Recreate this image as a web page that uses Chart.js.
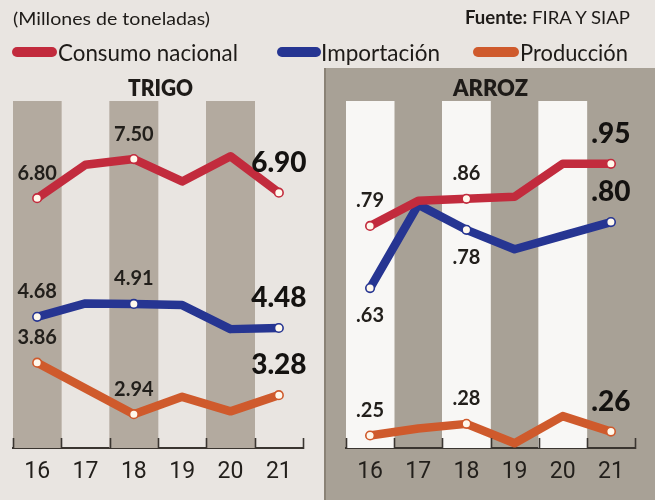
<!DOCTYPE html>
<html>
<head>
<meta charset="utf-8">
<script src="https://cdn.jsdelivr.net/npm/chart.js@4"></script>
<style>
  html, body { margin: 0; padding: 0; }
  body { width: 655px; height: 500px; overflow: hidden; position: relative; background: #e9e5e1; font-family: Lato, "Open Sans", sans-serif; color: #1e1b18; }
  #rightBox { position: absolute; left: 324px; top: 68px; width: 331px; height: 432px; background: #a8a196; border-left: 2px solid #8a8276; box-sizing: border-box; }
  canvas { position: absolute; top: 0; }
  #cTrigo { left: 0; }
  #cArroz { left: 325px; }
  .txt { position: absolute; white-space: nowrap; transform-origin: 0 50%; }
  .sw { position: absolute; height: 10px; border-radius: 5px; }
</style>
</head>
<body>
<div id="rightBox"></div>
<canvas id="cTrigo" width="325" height="500"></canvas>
<canvas id="cArroz" width="330" height="500"></canvas>

<div class="txt" id="tUnits" data-w="197" style="left:13px; top:7px; font-size:18px; line-height:22px;">(Millones de toneladas)</div>
<div class="txt" id="tSource" data-w="165" style="left:465px; top:6px; font-size:18px; line-height:22px;"><b>Fuente:</b> FIRA Y SIAP</div>

<div class="sw" style="left:12px; top:47px; width:45px; background:#c22b3d;"></div>
<div class="txt" data-w="180" style="left:58px; top:38px; font-size:24px; line-height:28px;">Consumo nacional</div>
<div class="sw" style="left:277px; top:47px; width:44px; background:#263592;"></div>
<div class="txt" data-w="119" style="left:321px; top:38px; font-size:24px; line-height:28px;">Importación</div>
<div class="sw" style="left:473px; top:47px; width:46px; background:#cf5a2c;"></div>
<div class="txt" data-w="108" style="left:520px; top:38px; font-size:24px; line-height:28px;">Producción</div>

<div class="txt" data-w="65" style="left:128px; top:74px; font-size:23px; line-height:26px; font-weight:800;">TRIGO</div>
<div class="txt" data-w="75" style="left:453px; top:74px; font-size:23px; line-height:26px; font-weight:800;">ARROZ</div>

<script>
// ---------- DATA ----------
const categories = ['16', '17', '18', '19', '20', '21'];

const trigoConsumo    = [6.80, 7.40, 7.50, 7.10, 7.55, 6.90];
const trigoImportacion = [4.68, 4.92, 4.91, 4.89, 4.46, 4.48];
const trigoProduccion = [3.86, 3.40, 2.94, 3.25, 2.99, 3.28];

const arrozConsumo    = [0.79, 0.855, 0.86, 0.865, 0.95, 0.95];
const arrozImportacion = [0.63, 0.845, 0.78, 0.73, 0.765, 0.80];
const arrozProduccion = [0.25, 0.268, 0.28, 0.23, 0.30, 0.26];

const labeledIdx = [0, 2, 5];          // years that carry a value label
const stripeYears = ['16', '18', '20']; // shaded background bands

const trigoRange = [2.335, 8.538];
const arrozRange = [0.2178, 1.112];

// ---------- STYLE ----------
const RED = '#c22b3d', BLUE = '#263592', ORANGE = '#cf5a2c';

// fit header texts to their widths
document.querySelectorAll('.txt').forEach(el => {
  const w = parseFloat(el.dataset.w);
  const nat = el.getBoundingClientRect().width;
  if (w && nat) el.style.transform = 'scaleX(' + (w / nat) + ')';
});

const valueLabels = {
  id: 'valueLabels',
  afterDatasetsDraw(chart, args, opts) {
    const ctx = chart.ctx;
    ctx.save();
    chart.data.datasets.forEach((ds, di) => {
      if (ds.type !== 'line') return;
      const meta = chart.getDatasetMeta(di);
      const below = (opts.below && opts.below[di]) || [];
      labeledIdx.forEach(i => {
        const pt = meta.data[i];
        const v = ds.data[i];
        const last = i === ds.data.length - 1;
        const isBelow = below.includes(i);
        ctx.font = last ? '900 28px Lato' : '700 20px Lato';
        ctx.fillStyle = last ? '#141210' : '#221f1b';
        ctx.textAlign = 'center';
        ctx.textBaseline = 'middle';
        const y = isBelow ? pt.y + 28 : pt.y - (last ? 30 : 25);
        ctx.fillText(opts.format(v), pt.x, y);
      });
    });
    ctx.restore();
  }
};

const upTicks = {
  id: 'upTicks',
  afterDraw(chart) {
    const ctx = chart.ctx, xs = chart.scales.x;
    const y = xs.top;
    ctx.save();
    ctx.strokeStyle = '#3a3530';
    ctx.lineWidth = 1.6;
    for (let i = 0; i <= categories.length; i++) {
      const x = Math.round(xs.getPixelForValue(i - 0.5)) + 0.5;
      ctx.beginPath();
      ctx.moveTo(x, y + 1);
      ctx.lineTo(x, y - 10);
      ctx.stroke();
    }
    ctx.restore();
  }
};

function lineDs(data, color, order) {
  return {
    type: 'line', data, order,
    borderColor: color, borderWidth: 8.5,
    borderJoinStyle: 'round', borderCapStyle: 'round',
    tension: 0, clip: false,
    pointRadius: ctx => labeledIdx.includes(ctx.dataIndex) ? 4.3 : 0,
    pointBackgroundColor: '#fff8ec',
    pointBorderColor: color, pointBorderWidth: 1.6,
    pointHoverRadius: 0
  };
}

function makeChart(id, lines, range, stripeColor, padL, padR, fmt, below) {
  return new Chart(document.getElementById(id), {
    data: {
      labels: categories,
      datasets: [
        {
          type: 'bar', order: 10,
          data: categories.map(c => stripeYears.includes(c) ? range[1] : null),
          backgroundColor: stripeColor, borderWidth: 0,
          barPercentage: 1, categoryPercentage: 1,
          base: range[0], clip: 0
        },
        lineDs(lines[0], RED, 1),
        lineDs(lines[1], BLUE, 2),
        lineDs(lines[2], ORANGE, 3)
      ]
    },
    options: {
      responsive: false, animation: false, events: [],
      layout: { padding: { left: padL, right: padR, top: 101, bottom: 0 } },
      plugins: {
        legend: { display: false }, tooltip: { enabled: false },
        valueLabels: { format: fmt, below }
      },
      scales: {
        x: {
          type: 'category', offset: true,
          grid: { display: false, drawTicks: false },
          border: { display: true, color: '#3a3530', width: 2 },
          ticks: { color: '#221f1b', padding: 10, font: { family: '"Liberation Sans Narrow", Roboto, sans-serif', size: 23 } },
          afterFit(s) { s.height = 52; }
        },
        y: { type: 'linear', display: false, min: range[0], max: range[1] }
      }
    },
    plugins: [valueLabels, upTicks]
  });
}

makeChart('cTrigo', [trigoConsumo, trigoImportacion, trigoProduccion], trigoRange,
  '#b3aa9f', 13, 22, v => v.toFixed(2), {});
makeChart('cArroz', [arrozConsumo, arrozImportacion, arrozProduccion], arrozRange,
  '#f8f7f5', 21, 20, v => v.toFixed(2).replace(/^0/, ''), { 2: [0, 2] });
</script>
</body>
</html>
